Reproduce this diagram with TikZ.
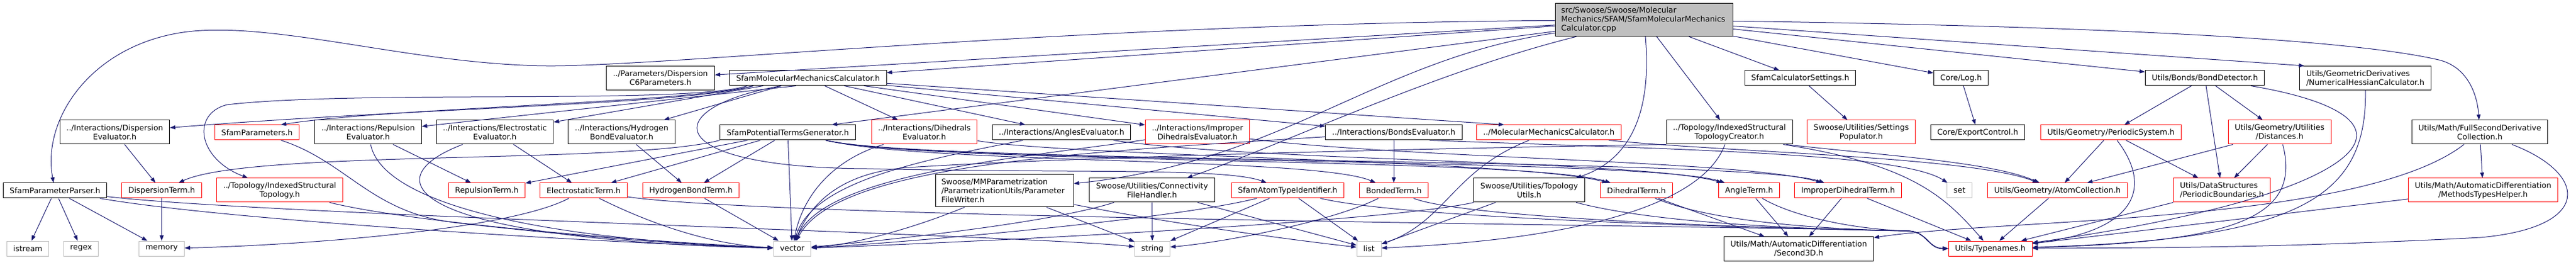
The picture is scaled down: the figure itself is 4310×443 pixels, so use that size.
\documentclass[tikz,border=0pt]{standalone}
\usepackage{fontspec}
\setmainfont{DejaVu Sans}
\usepackage{tikz}
\usetikzlibrary{arrows.meta,positioning,calc}
\definecolor{edgeblue}{HTML}{191970}
\definecolor{sysgray}{HTML}{BFBFBF}
\setlength{\parindent}{0pt}
\tikzset{
  hdr/.style={draw=black,line width=1bp,font=\fontsize{12.9bp}{15bp}\selectfont,inner xsep=11bp,inner ysep=6bp,minimum height=25bp,align=center},
  trunc/.style={hdr,draw=red},
  sys/.style={hdr,draw=sysgray},
  two/.style={minimum height=40bp},
  dep/.style={->,draw=edgeblue,line width=1bp}
}

\begin{document}
\begin{tikzpicture}[x=1bp,y=-1bp,>={Triangle[length=9bp,width=6.5bp]}]
\useasboundingbox (0,0) rectangle (4310,443);
\node[hdr,fill=sysgray,text width=277bp,inner xsep=10bp,align=left,minimum height=55bp] (main) at (2750.5,33.2) {src/Swoose/Swoose/Molecular\\Mechanics/SFAM/SfamMolecularMechanics\par\centering Calculator.cpp};
\node[hdr,two] (C6) at (1105,130.5) {../Parameters/Dispersion\\C6Parameters.h};
\node[hdr] (SMMC) at (1352,130.5) {SfamMolecularMechanicsCalculator.h};
\node[hdr] (CS) at (3012,130.5) {SfamCalculatorSettings.h};
\node[hdr] (Log) at (3281,130.5) {Core/Log.h};
\node[hdr] (BD) at (3689,130.5) {Utils/Bonds/BondDetector.h};
\node[hdr,two,align=left] (NHC) at (3957.5,130.5) {Utils/GeometricDerivatives\\/NumericalHessianCalculator.h};
\node[hdr,two] (DE) at (192,221) {../Interactions/Dispersion\\Evaluator.h};
\node[trunc] (SP) at (430,221.5) {SfamParameters.h};
\node[hdr,two] (RE) at (616,221) {../Interactions/Repulsion\\Evaluator.h};
\node[hdr,two] (EE) at (828,221) {../Interactions/Electrostatic\\Evaluator.h};
\node[hdr,two] (HE) at (1040,221) {../Interactions/Hydrogen\\BondEvaluator.h};
\node[hdr] (PTG) at (1318,221.5) {SfamPotentialTermsGenerator.h};
\node[trunc,two] (DhE) at (1546.5,221) {../Interactions/Dihedrals\\Evaluator.h};
\node[hdr] (AE) at (1776,221.5) {../Interactions/AnglesEvaluator.h};
\node[trunc,two] (IDE) at (2003.5,221) {../Interactions/Improper\\DihedralsEvaluator.h};
\node[hdr] (BE) at (2332,221.5) {../Interactions/BondsEvaluator.h};
\node[trunc] (MMC) at (2591.5,221.5) {../MolecularMechanicsCalculator.h};
\node[hdr,two] (TC) at (2893.5,221) {../Topology/IndexedStructural\\TopologyCreator.h};
\node[trunc,two] (SPop) at (3114,221) {Swoose/Utilities/Settings\\Populator.h};
\node[hdr] (EC) at (3309,221.5) {Core/ExportControl.h};
\node[trunc] (PS) at (3532,221.5) {Utils/Geometry/PeriodicSystem.h};
\node[trunc,two] (Dist) at (3814,221) {Utils/Geometry/Utilities\\/Distances.h};
\node[hdr,two] (FSD) at (4149,221) {Utils/Math/FullSecondDerivative\\Collection.h};
\node[hdr] (PP) at (92,318.5) {SfamParameterParser.h};
\node[trunc] (DT) at (270.5,318.5) {DispersionTerm.h};
\node[trunc,two] (IST) at (468,318) {../Topology/IndexedStructural\\Topology.h};
\node[trunc] (RT) at (814.5,318.5) {RepulsionTerm.h};
\node[trunc] (ET) at (976.5,318.5) {ElectrostaticTerm.h};
\node[trunc] (HT) at (1156,318.5) {HydrogenBondTerm.h};
\node[hdr,text width=211bp,inner xsep=10bp,align=left,minimum height=54bp] (PFW) at (1680.5,319) {Swoose/MMParametrization\\/ParametrizationUtils/Parameter\par\centering FileWriter.h};
\node[hdr,two] (CFH) at (1927.5,318) {Swoose/Utilities/Connectivity\\FileHandler.h};
\node[trunc] (ATI) at (2154.5,318.5) {SfamAtomTypeIdentifier.h};
\node[trunc] (BT) at (2332,318.5) {BondedTerm.h};
\node[hdr,two] (TU) at (2558.5,318) {Swoose/Utilities/Topology\\Utils.h};
\node[trunc] (DhT) at (2738,318.5) {DihedralTerm.h};
\node[trunc] (AT) at (2926.5,318.5) {AngleTerm.h};
\node[trunc] (IDT) at (3092,318.5) {ImproperDihedralTerm.h};
\node[sys] (set) at (3278.5,318.5) {set};
\node[trunc] (AC) at (3442.5,318.5) {Utils/Geometry/AtomCollection.h};
\node[trunc,two,align=left] (PB) at (3717.5,318) {Utils/DataStructures\\/PeriodicBoundaries.h};
\node[trunc,two] (MTH) at (4154.5,318) {Utils/Math/AutomaticDifferentiation\\/MethodsTypesHelper.h};
\node[sys] (istream) at (46.6,415.5) {istream};
\node[sys] (regex) at (135.7,415.5) {regex};
\node[sys] (memory) at (270.5,415.5) {memory};
\node[sys] (vector) at (1325.5,415.5) {vector};
\node[sys] (string) at (1928,415.5) {string};
\node[sys] (list) at (2290.5,415.5) {list};
\node[hdr,two] (S3D) at (3009.5,416) {Utils/Math/AutomaticDifferentiation\\/Second3D.h};
\node[trunc] (TN) at (3330,415.5) {Utils/Typenames.h};
\coordinate (TNin) at (3190,386);
\draw[dep] (main) .. controls (1800,40) and (1150,108) .. (930,110) .. controls (700,112) and (450,30) .. (300,55) .. controls (150,80) and (70,200) .. (PP);
\draw[dep] (main) -- (C6);
\draw[dep] (main) -- (SMMC);
\draw[dep] (main) -- ([xshift=-40bp]PTG.north east);
\draw[dep] (main) .. controls (2300,100) and (2150,270) .. (PFW);
\draw[dep] (main) .. controls (2400,120) and (2150,240) .. (CFH);
\draw[dep] (main) .. controls (2765,200) and (2720,270) .. ([xshift=-15bp]TU.north east);
\draw[dep] (main) -- (TC);
\draw[dep] (main) -- (CS);
\draw[dep] (main) -- (Log);
\draw[dep] (main) -- (BD);
\draw[dep] (main) -- ([xshift=8bp]NHC.north west);
\draw[dep] (main) .. controls (3600,45) and (3950,70) .. (4080,100) .. controls (4130,112) and (4145,160) .. (FSD);
\draw[dep] ([xshift=40bp]SMMC.south west) .. controls (1150,175) and (700,180) .. (DE);
\draw[dep] ([xshift=40bp]SMMC.south west) .. controls (1150,172) and (650,180) .. ([xshift=40bp]SP.north);
\draw[dep] ([xshift=-20bp]SMMC.south) -- (RE);
\draw[dep] (SMMC) -- (EE);
\draw[dep] (SMMC) -- (HE);
\draw[dep] ([xshift=30bp]SMMC.south west) .. controls (1150,175) and (600,150) .. (380,175) .. controls (320,190) and (330,265) .. (IST);
\draw[dep] (SMMC) -- (DhE);
\draw[dep] (SMMC) -- (AE);
\draw[dep] (SMMC) -- (IDE);
\draw[dep] (SMMC) -- (BE);
\draw[dep] (SMMC) -- ([xshift=-75bp]MMC.north);
\draw[dep] ([xshift=-45bp]SMMC.south) .. controls (1100,180) and (1100,280) .. (1450,282) .. controls (1800,290) and (2050,280) .. (ATI);
\draw[dep] (PTG.south west) .. controls (1050,275) and (420,250) .. (DT);
\draw[dep] (PTG) -- (RT);
\draw[dep] (PTG) -- (ET);
\draw[dep] (PTG) -- (HT);
\draw[dep] (PTG) -- (vector);
\draw[dep] ([xshift=-50bp]PTG.south east) .. controls (1550,275) and (2200,262) .. (BT);
\draw[dep] ([xshift=-50bp]PTG.south east) .. controls (1550,275) and (2550,262) .. (DhT);
\draw[dep] ([xshift=-50bp]PTG.south east) .. controls (1550,275) and (2750,262) .. (AT);
\draw[dep] ([xshift=-50bp]PTG.south east) .. controls (1550,275) and (2920,262) .. (IDT);
\draw[dep] (DE) -- (DT);
\draw[dep] (RE) -- (RT);
\draw[dep] (RE) .. controls (640,340) and (900,400) .. (vector);
\draw[dep] (EE) -- (ET);
\draw[dep] (EE) .. controls (620,300) and (680,400) .. (vector);
\draw[dep] (HE) -- (HT);
\draw[dep] (DhE) .. controls (1800,262) and (2550,268) .. (DhT);
\draw[dep] (DhE) .. controls (1400,265) and (1345,320) .. (vector);
\draw[dep] (AE) .. controls (2100,270) and (2750,268) .. (AT);
\draw[dep] (AE) .. controls (1560,265) and (1360,300) .. (vector);
\draw[dep] (IDE) .. controls (2350,265) and (2920,268) .. (IDT);
\draw[dep] (IDE) .. controls (1700,265) and (1380,290) .. (vector);
\draw[dep] (BE) -- (BT);
\draw[dep] (BE) .. controls (1800,255) and (1400,275) .. (vector);
\draw[dep] ([xshift=60bp]BE.south) .. controls (2800,250) and (3180,255) .. (set);
\draw[dep] (MMC) .. controls (2430,285) and (2420,370) .. (list);
\draw[dep] ([xshift=100bp]MMC.south) .. controls (2900,255) and (3300,262) .. (AC);
\draw[dep] (TC.south west) .. controls (2400,248) and (1800,262) .. (1520,280) .. controls (1420,287) and (1360,330) .. (vector);
\draw[dep] (TC) .. controls (2850,340) and (2650,400) .. (list);
\draw[dep] ([xshift=95bp]TC.south) .. controls (3150,260) and (3330,270) .. (AC);
\draw[dep] ([xshift=90bp]TC.south) .. controls (3200,275) and (3255,330) .. (TN);
\draw[dep] (CS) -- (SPop);
\draw[dep] (Log) -- (EC);
\draw[dep] (PP) -- (istream);
\draw[dep] (PP) -- (regex);
\draw[dep] (PP) -- (memory);
\draw[dep] (PP) .. controls (400,372) and (1100,410) .. (vector);
\draw[dep] (PP) .. controls (450,360) and (1700,392) .. (string);
\draw[dep] (DT) -- (memory);
\draw[dep] (SP) .. controls (580,270) and (620,355) .. (760,372) .. controls (1000,400) and (1200,412) .. (vector);
\draw[dep] (IST) .. controls (700,375) and (1100,405) .. (vector);
\draw[dep] (ET) .. controls (850,385) and (500,410) .. (memory);
\draw[dep] (ET) .. controls (1100,380) and (1200,410) .. (vector);
\draw[dep] (ET) .. controls (1300,365) and (2800,376) .. (TNin) .. controls (3225,386) and (3225,415.5) .. (TN.west);
\draw[dep] (HT) -- (vector);
\draw[dep] (PFW) .. controls (1520,385) and (1420,410) .. (vector);
\draw[dep] (PFW) -- (string);
\draw[dep] (PFW) .. controls (1950,372) and (2150,400) .. (list);
\draw[dep] (CFH) .. controls (1750,375) and (1450,405) .. (vector);
\draw[dep] (CFH) -- (string);
\draw[dep] (CFH) -- (list);
\draw[dep] (ATI) .. controls (1950,370) and (1450,410) .. (vector);
\draw[dep] (ATI) -- (string);
\draw[dep] (ATI) -- (list);
\draw[dep] (ATI) .. controls (2350,365) and (2900,380) .. (TNin) .. controls (3225,386) and (3225,415.5) .. (TN.west);
\draw[dep] (BT) .. controls (2230,370) and (2050,405) .. (string);
\draw[dep] (BT) .. controls (2450,365) and (2950,382) .. (TNin) .. controls (3225,386) and (3225,415.5) .. (TN.west);
\draw[dep] (TU) .. controls (2300,375) and (1500,410) .. (vector);
\draw[dep] (TU) -- (list);
\draw[dep] (TU) .. controls (2750,368) and (2950,382) .. (TNin) .. controls (3225,386) and (3225,415.5) .. (TN.west);
\draw[dep] (DhT) -- (S3D);
\draw[dep] (DhT) .. controls (2850,365) and (3000,382) .. (TNin) .. controls (3225,386) and (3225,415.5) .. (TN.west);
\draw[dep] (AT) -- (S3D);
\draw[dep] (AT) .. controls (3000,362) and (3100,383) .. (TNin) .. controls (3225,386) and (3225,415.5) .. (TN.west);
\draw[dep] (IDT) -- (S3D);
\draw[dep] (IDT) -- (TN);
\draw[dep] (AC) -- (TN);
\draw[dep] (BD) -- (PS);
\draw[dep] (BD) -- (PB);
\draw[dep] (BD) -- (Dist);
\draw[dep] (BD) .. controls (4100,200) and (3950,330) .. (TN);
\draw[dep] (PS) -- (AC);
\draw[dep] (PS) -- (PB);
\draw[dep] (PS) .. controls (3600,310) and (3580,385) .. (TN);
\draw[dep] (Dist) -- (AC);
\draw[dep] (Dist) -- (PB);
\draw[dep] (Dist) .. controls (3850,360) and (3750,405) .. (TN);
\draw[dep] (PB) -- (TN);
\draw[dep] (NHC) .. controls (3960,330) and (3850,400) .. (TN);
\draw[dep] (FSD) -- (MTH);
\draw[dep] (FSD) .. controls (3950,375) and (3350,365) .. (S3D);
\draw[dep] (FSD) .. controls (4330,290) and (4340,380) .. (4150,397) .. controls (3800,415) and (3600,414) .. (TN);
\draw[dep] (MTH) -- (TN);
\end{tikzpicture}
\end{document}
